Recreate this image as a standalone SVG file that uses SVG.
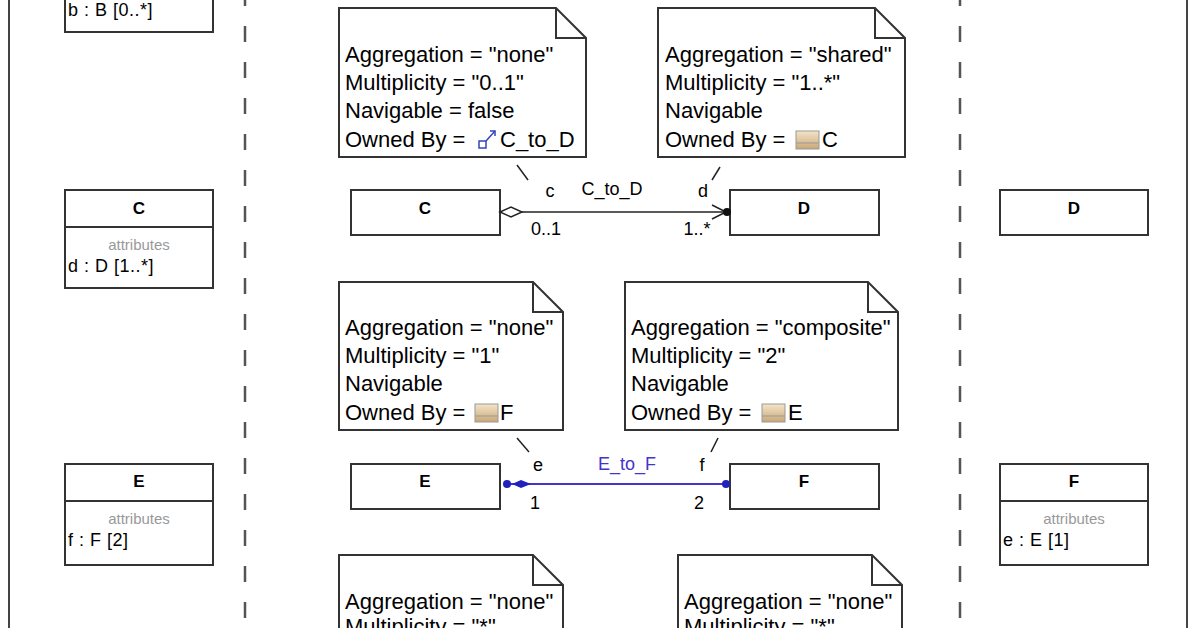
<svg xmlns="http://www.w3.org/2000/svg" width="1196" height="628" viewBox="0 0 1196 628">
<style>
text{font-family:"Liberation Sans",Arial,sans-serif;fill:#000}
.n{font-size:22px}
.h{font-size:17px;font-weight:bold;text-anchor:middle}
.a{font-size:15px;fill:#999;text-anchor:middle}
.t{font-size:18px;letter-spacing:0.5px}
.l{font-size:18px;text-anchor:middle}
.box{fill:#fff;stroke:#333;stroke-width:2}
.note{fill:#fff;stroke:#333;stroke-width:2}
.dash{stroke:#555;stroke-width:2.5;stroke-dasharray:16 20}
</style>
<defs>
<linearGradient id="cg" x1="0" y1="0" x2="0" y2="1"><stop offset="0" stop-color="#f4e4c8"/><stop offset="1" stop-color="#c9a878"/></linearGradient>
<g id="ci"><rect x="0" y="0" width="23" height="18" fill="url(#cg)" stroke="#999"/><line x1="0" y1="12" x2="23" y2="12" stroke="#999"/></g>
</defs>
<rect width="1196" height="628" fill="#fff"/>
<line x1="9" y1="0" x2="9" y2="628" stroke="#444" stroke-width="2"/>
<line x1="1187" y1="0" x2="1187" y2="628" stroke="#444" stroke-width="2"/>
<line class="dash" x1="245" y1="-10" x2="245" y2="628"/>
<line class="dash" x1="960" y1="-10" x2="960" y2="628"/>

<g id="B-left"><rect class="box" x="65" y="-10" width="148" height="42"/><text class="t" x="68" y="16">b : B [0..*]</text></g>
<g id="C-left"><rect class="box" x="65" y="190" width="148" height="98"/><line x1="65" y1="227" x2="213" y2="227" stroke="#333" stroke-width="2"/><text class="h" x="139" y="214">C</text><text class="a" x="139" y="250">attributes</text><text class="t" x="68" y="272">d : D [1..*]</text></g>
<g id="E-left"><rect class="box" x="65" y="464" width="148" height="101"/><line x1="65" y1="501" x2="213" y2="501" stroke="#333" stroke-width="2"/><text class="h" x="139" y="487">E</text><text class="a" x="139" y="524">attributes</text><text class="t" x="68" y="546">f : F [2]</text></g>
<g id="D-right"><rect class="box" x="1000" y="190" width="148" height="45"/><text class="h" x="1074" y="214">D</text></g>
<g id="F-right"><rect class="box" x="1000" y="464" width="148" height="101"/><line x1="1000" y1="501" x2="1148" y2="501" stroke="#333" stroke-width="2"/><text class="h" x="1074" y="487">F</text><text class="a" x="1074" y="524">attributes</text><text class="t" x="1003" y="546">e : E [1]</text></g>

<g id="C"><rect class="box" x="351" y="190" width="149" height="45"/><text class="h" x="425" y="214">C</text></g>
<g id="D"><rect class="box" x="730" y="190" width="149" height="45"/><text class="h" x="804" y="214">D</text></g>
<g id="E"><rect class="box" x="351" y="464" width="149" height="45"/><text class="h" x="425" y="487">E</text></g>
<g id="F"><rect class="box" x="730" y="464" width="149" height="45"/><text class="h" x="804" y="487">F</text></g>

<g id="note1"><path class="note" d="M339,8 H556 L586,38 V157 H339 Z M556,8 V38 H586"/>
<text class="n" x="345" y="62">Aggregation = "none"</text><text class="n" x="345" y="90">Multiplicity = "0..1"</text><text class="n" x="345" y="118">Navigable = false</text><text class="n" x="345" y="147">Owned By =</text>
<g stroke="#3344bb" stroke-width="1.5" fill="none"><rect x="479" y="141" width="7" height="7"/><line x1="486" y1="141" x2="495" y2="131"/><path d="M490,131 H495 V136"/></g>
<text class="n" x="500" y="147">C_to_D</text></g>
<g id="note2"><path class="note" d="M658,8 H875 L905,38 V157 H658 Z M875,8 V38 H905"/>
<text class="n" x="665" y="62">Aggregation = "shared"</text><text class="n" x="665" y="90">Multiplicity = "1..*"</text><text class="n" x="665" y="118">Navigable</text><text class="n" x="665" y="147">Owned By =</text><use href="#ci" x="796" y="131"/><text class="n" x="822" y="147">C</text></g>
<g id="note3"><path class="note" d="M339,282 H533 L563,312 V430 H339 Z M533,282 V312 H563"/>
<text class="n" x="345" y="335">Aggregation = "none"</text><text class="n" x="345" y="363">Multiplicity = "1"</text><text class="n" x="345" y="391">Navigable</text><text class="n" x="345" y="420">Owned By =</text><use href="#ci" x="475" y="404"/><text class="n" x="500" y="420">F</text></g>
<g id="note4"><path class="note" d="M625,282 H868 L898,312 V430 H625 Z M868,282 V312 H898"/>
<text class="n" x="631" y="335">Aggregation = "composite"</text><text class="n" x="631" y="363">Multiplicity = "2"</text><text class="n" x="631" y="391">Navigable</text><text class="n" x="631" y="420">Owned By =</text><use href="#ci" x="762" y="404"/><text class="n" x="788" y="420">E</text></g>
<g id="note5"><path class="note" d="M339,555 H533 L563,585 V640 H339 Z M533,555 V585 H563"/>
<text class="n" x="345" y="609">Aggregation = "none"</text><text class="n" x="345" y="634">Multiplicity = "*"</text></g>
<g id="note6"><path class="note" d="M678,555 H872 L902,585 V640 H678 Z M872,555 V585 H902"/>
<text class="n" x="684" y="609">Aggregation = "none"</text><text class="n" x="684" y="634">Multiplicity = "*"</text></g>

<g id="connectors">
<line x1="522" y1="212" x2="728" y2="212" stroke="#222" stroke-width="1.5"/>
<path d="M500,212 L511,207 L522,212 L511,217 Z" fill="#fff" stroke="#222" stroke-width="1.5"/>
<path d="M712,205 L726,212 L712,219" fill="none" stroke="#222" stroke-width="1.5"/>
<circle cx="727" cy="212" r="4" fill="#111"/>
<line x1="517" y1="165" x2="528" y2="180" stroke="#222" stroke-width="1.5"/>
<line x1="712" y1="180" x2="720" y2="167" stroke="#222" stroke-width="1.5"/>
<text class="l" x="550" y="197">c</text><text class="l" x="612" y="195">C_to_D</text><text class="l" x="703" y="197">d</text>
<text class="l" x="546" y="235">0..1</text><text class="l" x="697" y="235">1..*</text>

<line x1="510" y1="484" x2="727" y2="484" stroke="#4433cc" stroke-width="1.8"/>
<circle cx="507" cy="484" r="4" fill="#2222bb"/>
<path d="M512,484 L521,480 L531,484 L521,488 Z" fill="#2222bb"/>
<circle cx="726" cy="484" r="4" fill="#2222bb"/>
<line x1="517" y1="438" x2="529" y2="452" stroke="#222" stroke-width="1.5"/>
<line x1="711" y1="452" x2="718" y2="438" stroke="#222" stroke-width="1.5"/>
<text class="l" x="538" y="471">e</text><text class="l" x="627" y="470" style="fill:#4433cc">E_to_F</text><text class="l" x="702" y="471">f</text>
<text class="l" x="535" y="509">1</text><text class="l" x="699" y="509">2</text>
</g>
</svg>
